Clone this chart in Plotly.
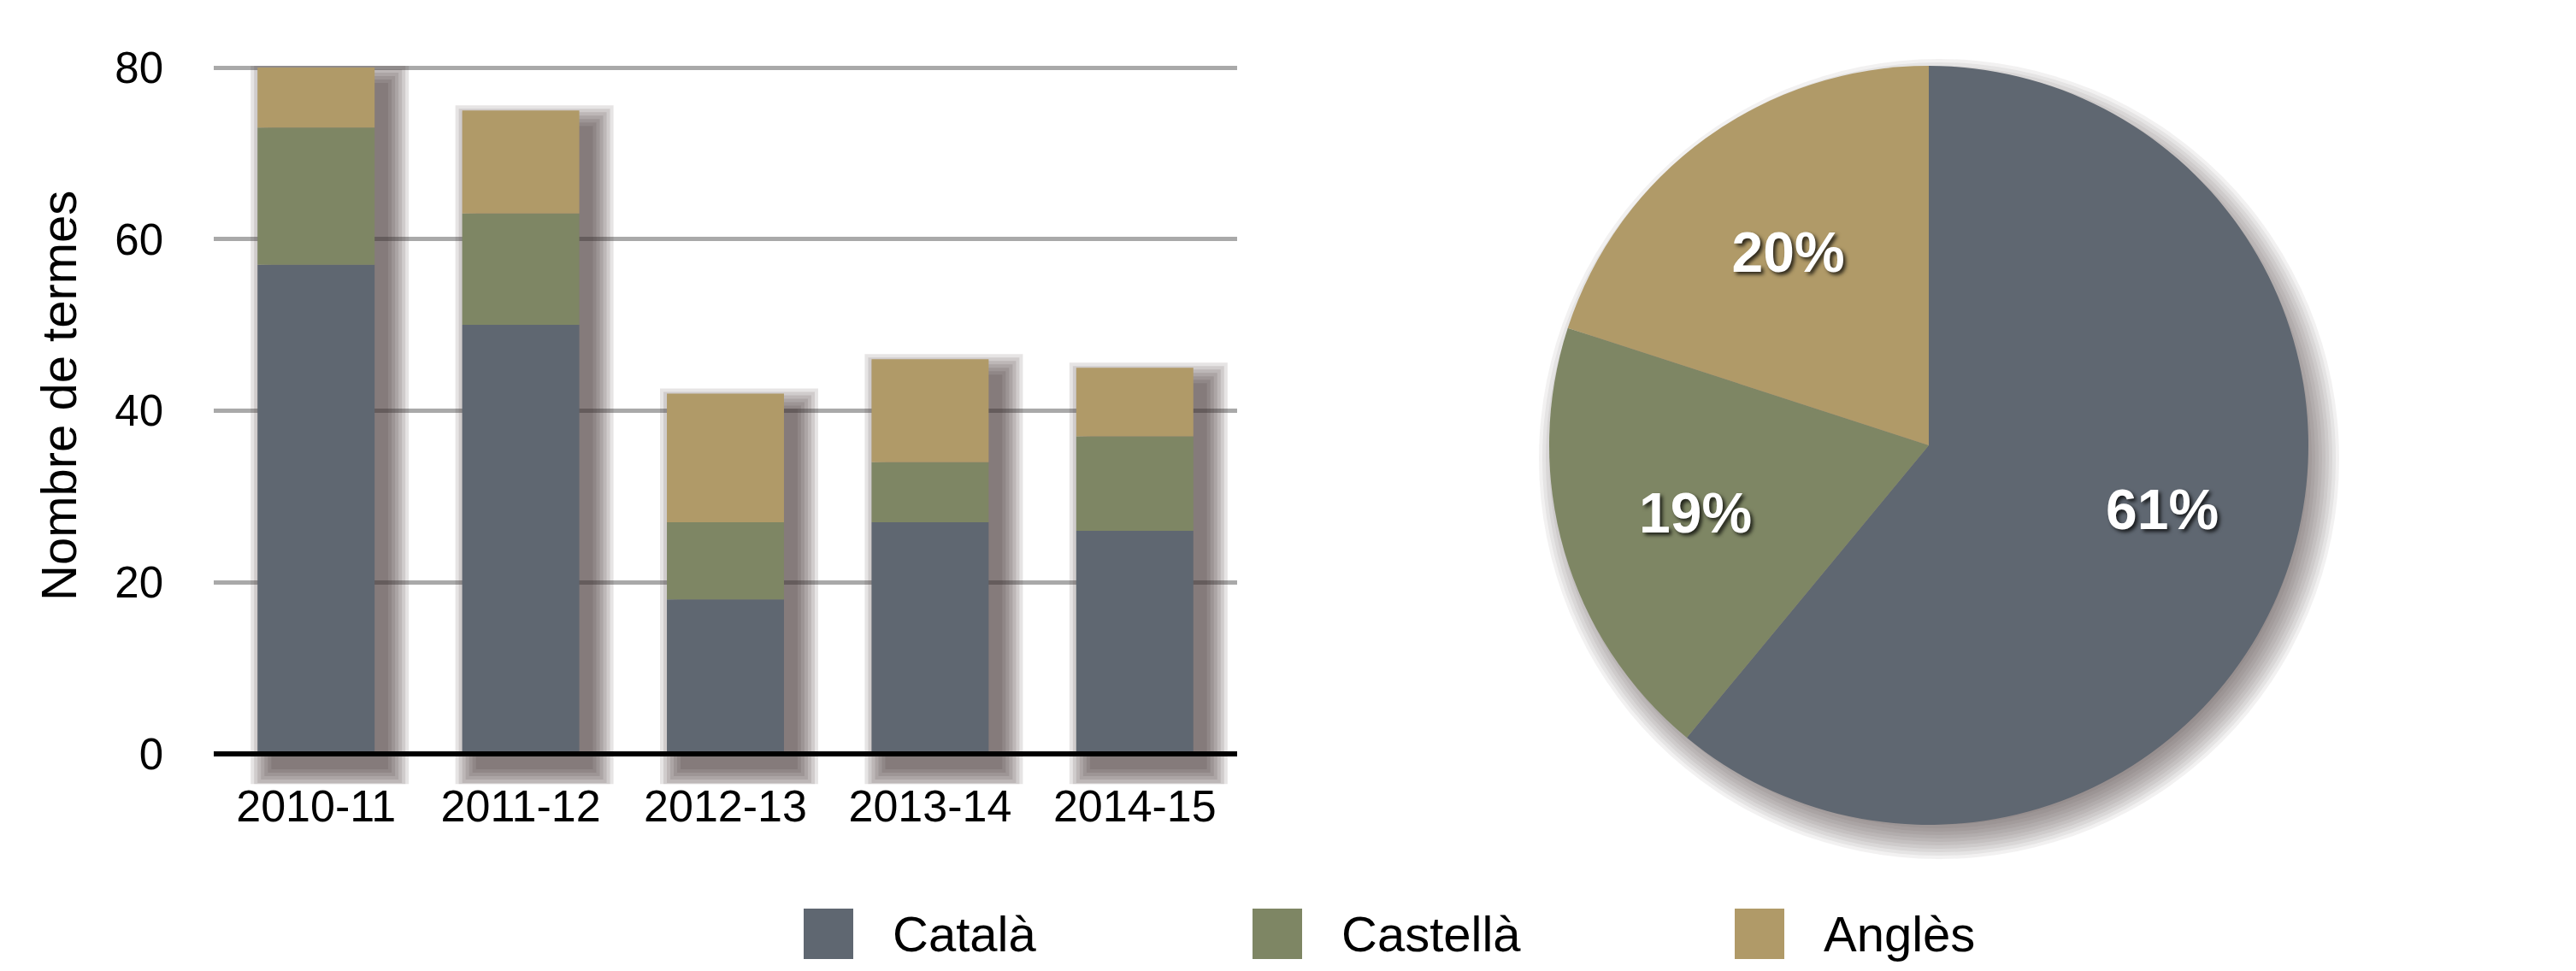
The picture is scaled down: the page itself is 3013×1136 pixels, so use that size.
import plotly.graph_objects as go

# ---- data ----
years = ["2010-11", "2011-12", "2012-13", "2013-14", "2014-15"]
catala = [57, 50, 18, 27, 26]
castella = [16, 13, 9, 7, 11]
angles = [7, 12, 15, 12, 8]
series_names = ["Català", "Castellà", "Anglès"]
pie_values = [61, 19, 20]
y_ticks = [0, 20, 40, 60, 80]

colors = ["#5f6771", "#7e8664", "#b09a68"]

W, H = 3013, 1136
FONT = "Liberation Sans, Arial, Helvetica, sans-serif"


def px(x):
    return x / W


def py(y):
    return 1 - y / H


# plot geometry (pixels)
X0, X1 = 250, 1447
Y_ZERO, Y_TOP = 882, 79
Y_MIN, Y_MAX = -3.5, 80.2
PU = (Y_ZERO - Y_TOP) / 80.0           # px per y unit
CU = (X1 - X0) / len(years)            # px per category
BAR_W = 0.572

base_cast = catala
base_ang = [a + b for a, b in zip(catala, castella)]
totals = [a + b + c for a, b, c in zip(catala, castella, angles)]

fig = go.Figure()

# soft drop shadow behind the bars
sx, sy = 16, 18
for g in range(0, 28, 4):
    fig.add_trace(go.Bar(
        x=years, y=[t + 2 * g / PU for t in totals],
        base=-(sy + g) / PU,
        width=BAR_W + 2 * g / CU, offset=-BAR_W / 2 + (sx - g) / CU,
        marker=dict(color="rgba(62,46,46,0.13)", line=dict(width=0)),
        showlegend=False, hoverinfo="skip",
    ))

for name, vals, base, col in zip(series_names, [catala, castella, angles],
                                 [None, base_cast, base_ang], colors):
    fig.add_trace(go.Bar(
        x=years, y=vals, base=base, name=name, width=BAR_W,
        marker=dict(color=col, line=dict(width=0)),
        showlegend=False, hoverinfo="x+y+name",
    ))

fig.add_trace(go.Pie(
    labels=series_names, values=pie_values, sort=False, direction="clockwise",
    rotation=0, marker=dict(colors=colors, line=dict(width=0)),
    texttemplate=["\u00a0" * 7 + "%{percent}", "%{percent}", "%{percent}"],
    textposition="inside", insidetextorientation="horizontal",
    textfont=dict(color="white", size=66, family=FONT, weight="bold",
                  shadow="3px 3px 4px rgba(0,0,0,0.75)"),
    domain=dict(x=[px(1812), px(2700)], y=[py(965), py(77)]),
    showlegend=False, hoverinfo="label+percent",
))

shapes = []
# soft pie shadow
cx, cy, r = 2256, 521, 444
ox, oy = 12, 16
for g in range(-20, 28, 4):
    shapes.append(dict(
        type="circle", xref="paper", yref="paper", layer="below",
        x0=px(cx + ox - r - g), x1=px(cx + ox + r + g),
        y0=py(cy + oy + r + g), y1=py(cy + oy - r - g),
        fillcolor="rgba(75,55,55,0.07)", line=dict(width=0)))

# baseline of the bar chart
shapes.append(dict(type="line", xref="x domain", yref="y", x0=0, x1=1, y0=0, y1=0,
                   line=dict(color="black", width=6), layer="above"))

# custom legend
legend_x = [940, 1465, 2029]
annotations = []
for name, col, lx in zip(series_names, colors, legend_x):
    shapes.append(dict(type="rect", xref="paper", yref="paper",
                       x0=px(lx), x1=px(lx + 58), y0=py(1122), y1=py(1063),
                       fillcolor=col, line=dict(width=0)))
    annotations.append(dict(x=px(lx + 102), y=py(1092), xref="paper", yref="paper",
                            text=name, showarrow=False, xanchor="left", yanchor="middle",
                            font=dict(size=58, color="black", family=FONT)))

annotations.append(dict(x=px(68), y=py(463), xref="paper", yref="paper",
                        text="Nombre de termes", showarrow=False, textangle=-90,
                        xanchor="center", yanchor="middle",
                        font=dict(size=58, color="black", family=FONT)))

y_bottom_px = Y_ZERO - Y_MIN * PU
y_top_px = Y_ZERO - Y_MAX * PU

fig.update_layout(
    width=W, height=H, margin=dict(l=0, r=0, t=0, b=0, autoexpand=False),
    paper_bgcolor="white", plot_bgcolor="white",
    barmode="overlay",
    font=dict(family=FONT, color="black"),
    xaxis=dict(type="category", domain=[px(X0), px(X1)], showline=False,
               ticks="", showgrid=False, automargin=False, tickangle=0,
               range=[-0.5, len(years) - 0.5],
               tickfont=dict(size=52, color="black"), ticklabelstandoff=-9),
    yaxis=dict(domain=[py(y_bottom_px), py(y_top_px)], range=[Y_MIN, Y_MAX],
               tickvals=y_ticks,
               showgrid=True, gridcolor="#a9a9a9", gridwidth=5, zeroline=False,
               showline=False, ticks="", tickfont=dict(size=51, color="black"),
               ticklabelstandoff=58, automargin=False),
    shapes=shapes, annotations=annotations,
)

fig.write_html("out.html")
